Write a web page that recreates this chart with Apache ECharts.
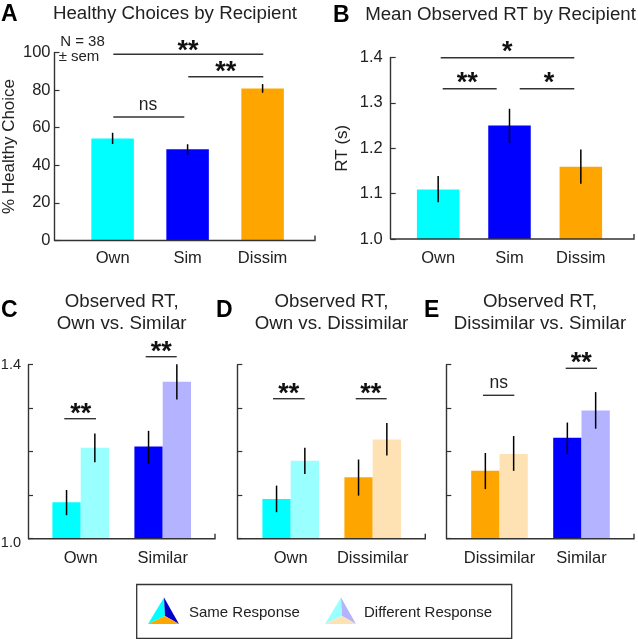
<!DOCTYPE html>
<html><head><meta charset="utf-8">
<style>html,body{margin:0;padding:0;background:#fff}#c{width:638px;height:639px}</style>
<script src="https://cdn.jsdelivr.net/npm/echarts@6/dist/echarts.min.js"></script>
</head><body><div id="c"></div>
<script>
// ---- data ----
const recipientLabels = ['Own', 'Sim', 'Dissim'];
const healthyValues = [54.3, 48.5, 80.9];
const healthyErrLow = [51.3, 45.7, 78.6];
const healthyErrHigh = [57.3, 51.2, 83.2];
const meanRtValues = [1.109, 1.25, 1.159];
const meanRtErrLow = [1.081, 1.211, 1.122];
const meanRtErrHigh = [1.139, 1.287, 1.197];

const cLabels = ['Own', 'Similar'];
const cSame = [1.084, 1.212];
const cSameLow = [1.054, 1.172];
const cSameHigh = [1.112, 1.248];
const cDiff = [1.209, 1.361];
const cDiffLow = [1.176, 1.32];
const cDiffHigh = [1.242, 1.401];

const dLabels = ['Own', 'Dissimilar'];
const dSame = [1.091, 1.141];
const dSameLow = [1.061, 1.099];
const dSameHigh = [1.122, 1.182];
const dDiff = [1.179, 1.228];
const dDiffLow = [1.149, 1.191];
const dDiffHigh = [1.209, 1.266];

const eLabels = ['Dissimilar', 'Similar'];
const eSame = [1.156, 1.232];
const eSameLow = [1.114, 1.195];
const eSameHigh = [1.197, 1.267];
const eDiff = [1.195, 1.295];
const eDiffLow = [1.156, 1.253];
const eDiffHigh = [1.236, 1.337];

// ---- styles ----
const FONT = '"Liberation Sans", Arial, sans-serif';
const INK = '#222';
const AXIS = '#333';
const CYAN = '#00FFFF', BLUE = '#0000FF', ORANGE = '#FFA500';
const CYAN_L = '#99FFFF', BLUE_L = '#B3B3FF', ORANGE_L = '#FFE2B3';

const grids = [], xAxes = [], yAxes = [], series = [], titles = [], graphics = [];

function errorBars(panel, lows, highs, nudge, name) {
  series.push({
    type: 'custom', name: name, xAxisIndex: panel, yAxisIndex: panel, z: 5, silent: true,
    data: lows.map((l, i) => [i, l, highs[i]]),
    encode: { x: 0, y: [1, 2] },
    renderItem: (p, api) => {
      const a = api.coord([api.value(0), api.value(1)]);
      const b = api.coord([api.value(0), api.value(2)]);
      return { type: 'line', shape: { x1: a[0] + nudge, y1: a[1], x2: b[0] + nudge, y2: b[1] },
        style: { stroke: '#000', lineWidth: 1.5 } };
    }
  });
}

function panelAxes(p) {
  const i = grids.length;
  grids.push({ left: p.left, width: p.width, top: p.top, height: p.height, outerBoundsMode: 'none' });
  xAxes.push({
    type: 'category', gridIndex: i, data: p.labels,
    axisLine: { show: false }, axisTick: { show: false },
    axisLabel: { color: INK, fontFamily: FONT, fontSize: 16.5, margin: p.xMargin, interval: 0 }
  });
  yAxes.push({
    type: 'value', gridIndex: i, min: p.min, max: p.max, interval: p.interval,
    offset: p.left - p.axisLeft,
    name: p.yName, nameLocation: 'middle', nameGap: p.nameGap,
    nameTextStyle: { color: INK, fontFamily: FONT, fontSize: 17 },
    splitLine: { show: false },
    axisLine: { show: true, lineStyle: { color: AXIS, width: 1.4 } },
    axisTick: { show: true, inside: true, length: 5, lineStyle: { color: AXIS, width: 1.2 } },
    axisLabel: { show: p.showLabels !== false, color: INK, fontFamily: FONT, fontSize: p.yFont || 16.5, margin: p.yMargin,
      formatter: p.fmt, rich: p.rich }
  });
  // baseline with the small tick at its right end
  const y0 = p.top + p.height;
  graphics.push({ type: 'polyline', silent: true, z: 10,
    shape: { points: [[p.axisLeft, y0], [p.axisRight, y0], [p.axisRight, y0 - 5]] },
    style: { stroke: AXIS, lineWidth: 1.4, fill: null } });
  return i;
}

function singlePanel(p, values, lows, highs, colors, name) {
  const i = panelAxes(p);
  series.push({ type: 'bar', name: name, xAxisIndex: i, yAxisIndex: i, barWidth: p.barWidth,
    data: values.map((v, k) => ({ value: v, itemStyle: { color: colors[k] } })) });
  errorBars(i, lows, highs, 0, name + ' SEM');
}

function pairedPanel(p, same, sameL, sameH, diff, diffL, diffH, colSame, colDiff) {
  const i = panelAxes(p);
  series.push({ type: 'bar', name: 'Same Response', xAxisIndex: i, yAxisIndex: i, barWidth: p.barWidth, barGap: 0,
    data: same.map((v, k) => ({ value: v, itemStyle: { color: colSame[k] } })) });
  series.push({ type: 'bar', name: 'Different Response', xAxisIndex: i, yAxisIndex: i, barWidth: p.barWidth, barGap: 0,
    data: diff.map((v, k) => ({ value: v, itemStyle: { color: colDiff[k] } })) });
  errorBars(i, sameL, sameH, -p.barWidth / 2, 'Same SEM');
  errorBars(i, diffL, diffH, p.barWidth / 2, 'Different SEM');
}

function text(str, x, y, size, opts) {
  graphics.push({ type: 'text', silent: true, z: 20, x: x, y: y,
    style: Object.assign({ text: str, fill: INK, font: size + 'px ' + FONT, textAlign: 'center', textVerticalAlign: 'middle' }, opts || {}) });
}
function sig(x1, x2, y, label, lx, ly) {
  graphics.push({ type: 'line', silent: true, z: 20, shape: { x1: x1, y1: y, x2: x2, y2: y }, style: { stroke: AXIS, lineWidth: 1.4 } });
  if (label === 'ns') text('ns', lx, ly, 17.5);
  else text(label, lx, ly + 5, 0, { font: 'bold 27px ' + FONT, fill: '#111' });
}
function heading(str, x, y) {
  titles.push({ text: str, left: x, top: y, textAlign: 'center', padding: 0,
    textStyle: { color: INK, fontFamily: FONT, fontSize: 18.7, fontWeight: 'normal', lineHeight: 22 } });
}
function letter(str, x, y) {
  text(str, x, y, 0, { font: 'bold 23px ' + FONT, fill: '#000', textAlign: 'left' });
}

// ---- panels ----
singlePanel({ left: 75.1, width: 225, top: 52.5, height: 188, axisLeft: 54.5, axisRight: 315,
  labels: recipientLabels, min: 0, max: 100, interval: 20, yName: '% Healthy Choice', nameGap: 37, yMargin: 4, xMargin: 9, barWidth: 42.5 },
  healthyValues, healthyErrLow, healthyErrHigh, [CYAN, BLUE, ORANGE], '% Healthy Choice');

singlePanel({ left: 402.5, width: 214, top: 57.5, height: 181.5, axisLeft: 390.7, axisRight: 634,
  labels: recipientLabels, min: 1.0, max: 1.4, interval: 0.1, yName: 'RT (s)', nameGap: 40, yMargin: 8, xMargin: 11, barWidth: 42.5,
  fmt: v => v.toFixed(1) },
  meanRtValues, meanRtErrLow, meanRtErrHigh, [CYAN, BLUE, ORANGE], 'Mean RT');

const endFmt = v => Math.abs(v - 1.4) < 1e-6 ? '1.4' : Math.abs(v - 1) < 1e-6 ? '{low|1.0}' : '';
pairedPanel({ left: 39.7, width: 164, top: 364.7, height: 174, axisLeft: 28, axisRight: 215,
  labels: cLabels, min: 1.0, max: 1.4, interval: 0.1, yName: 'RT (s)', nameGap: 13, yMargin: 7, yFont: 14.5, xMargin: 11, barWidth: 28.3,
  fmt: endFmt, rich: { low: { padding: [9, 0, 0, 0], color: INK, fontFamily: FONT, fontSize: 14.5 } } },
  cSame, cSameLow, cSameHigh, cDiff, cDiffLow, cDiffHigh, [CYAN, BLUE], [CYAN_L, BLUE_L]);

pairedPanel({ left: 249.7, width: 164, top: 364.7, height: 174, axisLeft: 237.3, axisRight: 425.3,
  labels: dLabels, min: 1.0, max: 1.4, interval: 0.1, yMargin: 9, xMargin: 11, barWidth: 28.3, showLabels: false },
  dSame, dSameLow, dSameHigh, dDiff, dDiffLow, dDiffHigh, [CYAN, ORANGE], [CYAN_L, ORANGE_L]);

pairedPanel({ left: 458.5, width: 164, top: 364.7, height: 174, axisLeft: 446.3, axisRight: 634,
  labels: eLabels, min: 1.0, max: 1.4, interval: 0.1, yMargin: 9, xMargin: 11, barWidth: 28.3, showLabels: false },
  eSame, eSameLow, eSameHigh, eDiff, eDiffLow, eDiffHigh, [ORANGE, BLUE], [ORANGE_L, BLUE_L]);

// ---- headings ----
heading('Healthy Choices by Recipient', 175, 3);
heading('Mean Observed RT by Recipient', 500.5, 4);
heading('Observed RT,\nOwn vs. Similar', 121.7, 291);
heading('Observed RT,\nOwn vs. Dissimilar', 331.5, 291);
heading('Observed RT,\nDissimilar vs. Similar', 540, 291);
letter('A', 1, 15); letter('B', 333, 16); letter('C', 1, 311); letter('D', 216, 311); letter('E', 424, 311);

text('N = 38', 82.5, 41.5, 15);
text('\u00b1 sem', 79, 57, 15);

// ---- significance marks ----
sig(113.3, 263.3, 54.3, '**', 188, 47);
sig(188.3, 263.3, 76.7, '**', 225.7, 67.5);
sig(113.3, 184.3, 117, 'ns', 148, 105);
sig(440.7, 574.3, 57.7, '*', 507.3, 48);
sig(442.7, 496.7, 88.7, '**', 467.3, 79);
sig(519.7, 574.3, 88.7, '*', 549, 79);
sig(64.3, 96, 418.7, '**', 80.7, 410);
sig(145.7, 176.7, 356.7, '**', 161.3, 347.7);
sig(273, 304.7, 398.7, '**', 288.7, 390);
sig(355.7, 386.7, 398.7, '**', 370.7, 390);
sig(483, 514.3, 395.3, 'ns', 498.7, 383);
sig(565.7, 597, 368.3, '**', 581.3, 359);

// ---- key ----
graphics.push({ type: 'rect', silent: true, shape: { x: 136.7, y: 584.5, width: 375, height: 54 },
  style: { fill: '#fff', stroke: '#333', lineWidth: 1.3 } });
function tri(x, left, right, bottom) {
  const top = [x + 16, 597.5], l = [x, 624], r = [x + 31, 624], c = [x + 17, 616];
  [[[top, l, c], left], [[top, c, r], right], [[l, r, c], bottom]].forEach(s => {
    graphics.push({ type: 'polygon', silent: true, shape: { points: s[0] }, style: { fill: s[1] }, z: 12 });
  });
}
tri(148, CYAN, '#0000C8', ORANGE);
tri(325, CYAN_L, BLUE_L, ORANGE_L);
text('Same Response', 189, 613, 15, { textAlign: 'left' });
text('Different Response', 364, 613, 15, { textAlign: 'left' });

const chart = echarts.init(document.getElementById('c'), null, { renderer: 'canvas' });
chart.setOption({
  animation: false, backgroundColor: '#fff', title: titles,
  grid: grids, xAxis: xAxes, yAxis: yAxes, series: series,
  graphic: { elements: graphics }, tooltip: { show: false }
});
</script></body></html>
